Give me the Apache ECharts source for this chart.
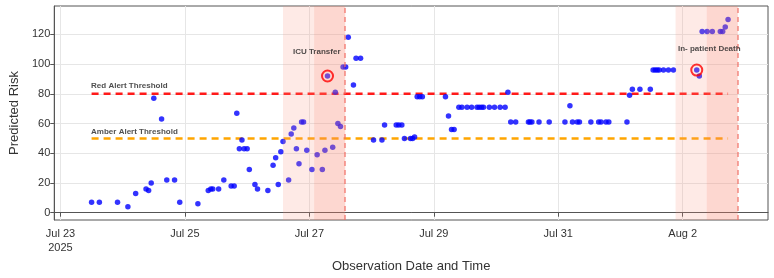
<!DOCTYPE html>
<html><head><meta charset="utf-8">
<script src="https://cdn.jsdelivr.net/npm/echarts@6/dist/echarts.min.js"></script>
<style>html,body{margin:0;padding:0;background:#fff}#c{width:774px;height:278px}</style>
</head><body><div id="c"></div>
<script>
// ---- data ----
const obsTimes = [
'2025-07-23 12:00','2025-07-23 15:00','2025-07-23 22:00','2025-07-24 02:00','2025-07-24 05:00','2025-07-24 09:00','2025-07-24 10:00','2025-07-24 11:00','2025-07-24 12:00','2025-07-24 15:00','2025-07-24 17:00','2025-07-24 20:00','2025-07-24 22:00',
'2025-07-25 05:00','2025-07-25 09:00','2025-07-25 10:00','2025-07-25 10:45','2025-07-25 13:00','2025-07-25 15:00','2025-07-25 17:50','2025-07-25 19:00','2025-07-25 20:00','2025-07-25 21:00','2025-07-25 22:00','2025-07-25 22:50',
'2025-07-26 00:00','2025-07-26 00:50','2025-07-26 03:00','2025-07-26 04:00','2025-07-26 08:00','2025-07-26 10:00','2025-07-26 11:00','2025-07-26 12:00','2025-07-26 13:00','2025-07-26 13:50','2025-07-26 16:00','2025-07-26 17:00','2025-07-26 18:00','2025-07-26 19:00','2025-07-26 20:00','2025-07-26 21:00','2025-07-26 21:45','2025-07-26 23:00',
'2025-07-27 01:00','2025-07-27 03:00','2025-07-27 05:00','2025-07-27 06:00','2025-07-27 07:00','2025-07-27 09:00','2025-07-27 10:00','2025-07-27 11:00','2025-07-27 12:00','2025-07-27 13:00','2025-07-27 14:00','2025-07-27 15:00','2025-07-27 17:00','2025-07-27 18:00','2025-07-27 19:45',
'2025-07-28 00:45','2025-07-28 04:00','2025-07-28 05:00','2025-07-28 09:30','2025-07-28 10:30','2025-07-28 11:40','2025-07-28 12:40','2025-07-28 15:00','2025-07-28 15:50','2025-07-28 16:35','2025-07-28 17:35','2025-07-28 18:35','2025-07-28 19:35',
'2025-07-29 04:30','2025-07-29 05:40','2025-07-29 06:50','2025-07-29 07:50','2025-07-29 09:40','2025-07-29 10:50','2025-07-29 12:50','2025-07-29 14:35','2025-07-29 16:40','2025-07-29 17:30','2025-07-29 18:25','2025-07-29 19:10','2025-07-29 21:25','2025-07-29 23:25',
'2025-07-30 01:35','2025-07-30 03:30','2025-07-30 04:35','2025-07-30 05:40','2025-07-30 07:35','2025-07-30 12:30','2025-07-30 13:05','2025-07-30 13:50','2025-07-30 16:35','2025-07-30 20:30',
'2025-07-31 02:35','2025-07-31 04:30','2025-07-31 05:30','2025-07-31 07:20','2025-07-31 08:10','2025-07-31 12:35','2025-07-31 15:35','2025-07-31 16:30','2025-07-31 18:25','2025-07-31 19:30',
'2025-08-01 02:30','2025-08-01 03:30','2025-08-01 04:35','2025-08-01 07:30','2025-08-01 11:30','2025-08-01 12:35','2025-08-01 13:25','2025-08-01 14:10','2025-08-01 14:55','2025-08-01 16:35','2025-08-01 18:30','2025-08-01 20:25',
'2025-08-02 05:25','2025-08-02 06:25','2025-08-02 07:30','2025-08-02 09:25','2025-08-02 11:25','2025-08-02 14:30','2025-08-02 15:25','2025-08-02 16:25','2025-08-02 17:30'
];
const predictedRisk = [
7,7,7,4,13,16,15,20,77,63,22,22,7,
6,15,16,16,16,22,18,18,67,43,49,43,
43,29,19,16,15,32,37,19,41,48,22,53,57,43,33,61,61,42,
29,39,29,42,92,44,81,60,58,98,98,118,86,104,104,
49,49,59,59,59,59,50,50,50,51,78,78,78,
78,65,56,56,71,71,71,71,71,71,71,71,71,71,
71,71,81,61,61,61,61,61,61,61,
61,72,61,61,61,61,61,61,61,61,
61,79,83,83,83,96,96,96,96,96,96,96,
96,92,122,122,122,122,122,125,130
];
const thresholdNames = ['Red Alert Threshold', 'Amber Alert Threshold'];
const thresholdValues = [80, 50];
const eventNames = ['ICU Transfer', 'In- patient Death'];
const eventTimes = ['2025-07-27 13:50', '2025-08-02 21:15'];
const flaggedTimes = ['2025-07-27 07:00', '2025-08-02 05:25'];
const flaggedRisk = [92, 96];
const xTickDates = ['2025-07-23', '2025-07-25', '2025-07-27', '2025-07-29', '2025-07-31', '2025-08-02'];
const yTicks = [0, 20, 40, 60, 80, 100, 120];

// ---- helpers ----
const HOUR = 3600 * 1000;
function ts(s) { const p = s.split(/[- :]/).map(Number); return new Date(p[0], p[1]-1, p[2], p[3]||0, p[4]||0).getTime(); }
const MON = ['Jan','Feb','Mar','Apr','May','Jun','Jul','Aug','Sep','Oct','Nov','Dec'];
const points = obsTimes.map((t, i) => [ts(t), predictedRisk[i]]);
const tFirst = points[0][0], tLast = points[points.length - 1][0];
const xTicks = xTickDates.map(ts);
const thresholdColors = ['#ff1a1a', '#ffa500'];
const FONT = 'Liberation Sans';

const series = [];
series.push({
  type: 'scatter', name: 'risk', data: points, symbolSize: 5.5, z: 3,
  itemStyle: { color: '#0000ff' }
});
thresholdValues.forEach((v, i) => {
  series.push({
    type: 'line', data: [[tFirst, v], [tLast, v]], symbol: 'none', z: 2,
    lineStyle: { color: thresholdColors[i], width: 2.5, type: [7, 5] }
  });
});
const shadeData = [], lineData = [];
eventTimes.forEach(t => {
  const e = ts(t);
  shadeData.push([{ xAxis: e - 24 * HOUR, itemStyle: { color: 'rgba(250,150,130,0.2)' } }, { xAxis: e - 12 * HOUR }]);
  shadeData.push([{ xAxis: e - 12 * HOUR, itemStyle: { color: 'rgba(248,130,110,0.32)' } }, { xAxis: e }]);
  lineData.push({ xAxis: e });
});
series.push({
  type: 'line', data: [], z: 5,
  markArea: { silent: true, z: 5, data: shadeData },
  markLine: { silent: true, z: 6, symbol: 'none', label: { show: false },
    lineStyle: { color: 'rgba(240,110,100,0.8)', width: 1.5, type: [5, 4] }, data: lineData }
});
series.push({
  type: 'scatter', z: 7, symbol: 'circle', symbolSize: 11,
  data: flaggedTimes.map((t, i) => [ts(t), flaggedRisk[i]]),
  itemStyle: { color: 'rgba(0,0,0,0)', borderColor: '#ff0000', borderWidth: 2 }
});
const annot = [];
thresholdValues.forEach((v, i) => annot.push({
  value: [tFirst, v],
  label: { show: true, formatter: thresholdNames[i], position: 'right', distance: 0, offset: [-1, i === 0 ? -8 : -7] }
}));
const eventLabelRisk = [108, 110];
eventTimes.forEach((t, i) => annot.push({
  value: [ts(t) - 11 * HOUR, eventLabelRisk[i]],
  label: { show: true, formatter: eventNames[i], position: 'inside' }
}));
series.push({
  type: 'scatter', z: 8, symbolSize: 1, silent: true,
  itemStyle: { color: 'rgba(0,0,0,0)' },
  label: { color: '#222', fontFamily: FONT, fontSize: 8, fontWeight: 'bold' },
  data: annot
});

const chart = echarts.init(document.getElementById('c'), null, { renderer: 'canvas' });
chart.setOption({
  animation: false,
  grid: { left: 52, right: 6, top: 6, bottom: 58, show: true, borderColor: '#555', borderWidth: 1 },
  xAxis: {
    type: 'value',
    min: ts('2025-07-23 00:00') - 2.4 * HOUR,
    max: ts('2025-08-02 00:00') + 32.9 * HOUR,
    name: 'Observation Date and Time', nameLocation: 'middle', nameGap: 40,
    nameTextStyle: { fontFamily: FONT, fontSize: 13, color: '#333' },
    axisLine: { show: true, lineStyle: { color: '#555', width: 1 } },
    axisTick: { show: true, customValues: xTicks, length: 4, lineStyle: { color: '#555' } },
    axisLabel: {
      customValues: xTicks, fontFamily: FONT, fontSize: 11, color: '#333', margin: 7, lineHeight: 14,
      formatter: (v) => { const d = new Date(v); const s = MON[d.getMonth()] + ' ' + d.getDate(); return v === xTicks[0] ? s + '\n' + d.getFullYear() : s; }
    },
    splitLine: { show: true, lineStyle: { color: '#e6e6e6', width: 1 } }
  },
  yAxis: {
    type: 'value', min: -4.9, max: 139.1,
    name: 'Predicted Risk', nameLocation: 'middle', nameGap: 32,
    nameTextStyle: { fontFamily: FONT, fontSize: 13, color: '#333' },
    axisLine: { show: true, lineStyle: { color: '#555', width: 1 } },
    axisTick: { show: true, customValues: yTicks, length: 4, lineStyle: { color: '#555' } },
    axisLabel: { customValues: yTicks, fontFamily: FONT, fontSize: 11, color: '#333', margin: 4 },
    splitLine: { show: true, lineStyle: { color: '#e6e6e6', width: 1 } }
  },
  series: series
});
</script></body></html>
